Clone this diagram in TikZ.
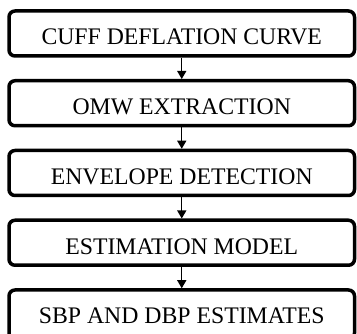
\documentclass[tikz,border=0pt]{standalone}
\usepackage{fontspec}
\setmainfont{Liberation Serif}
\usetikzlibrary{arrows.meta}
\begin{document}
\begin{tikzpicture}[x=1pt,y=1pt,
  flowbox/.style={draw=black, line width=3.5pt, rounded corners=6pt,
    minimum width=345.5pt, minimum height=45pt, inner sep=0pt,
    text height=23pt, text depth=0pt,
    font=\fontsize{23.75pt}{26pt}\selectfont},
  flowarrow/.style={line width=1.3pt, -{Triangle[width=9pt,length=8pt]}}]
\useasboundingbox (0,0) rectangle (357,-334);
\node[flowbox] (b1) at (181.75,-33.5) {CUFF DEFLATION CURVE};
\node[flowbox] (b2) at (181.75,-103.25) {OMW EXTRACTION};
\node[flowbox] (b3) at (181.75,-173) {ENVELOPE DETECTION};
\node[flowbox] (b4) at (181.75,-242.75) {ESTIMATION MODEL};
\node[flowbox, minimum height=49pt, text height=19pt] (b5) at (181.75,-314.5) {SBP AND DBP ESTIMATES};
\draw[flowarrow] (b1.south) -- (b2.north);
\draw[flowarrow] (b2.south) -- (b3.north);
\draw[flowarrow] (b3.south) -- (b4.north);
\draw[flowarrow] (b4.south) -- (b5.north);
\end{tikzpicture}
\end{document}
